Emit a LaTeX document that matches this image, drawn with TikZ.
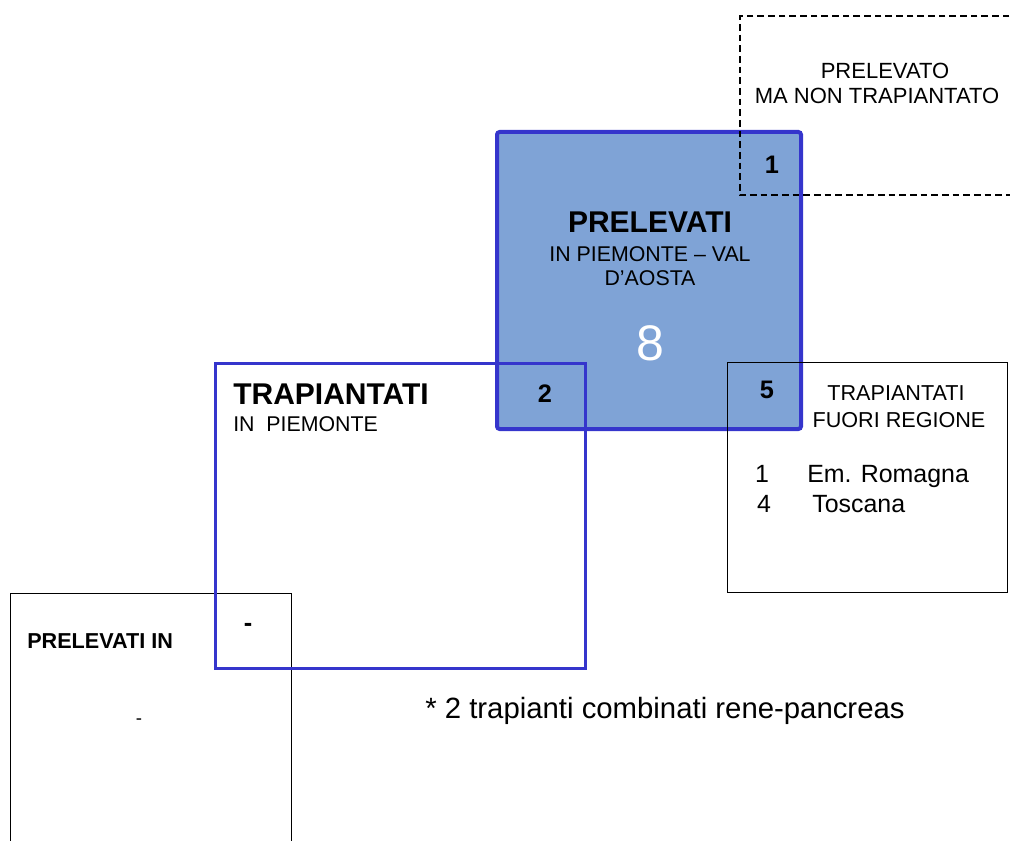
\documentclass[tikz,border=0pt]{standalone}
\usepackage{fontspec}
\setmainfont{Liberation Sans}

\definecolor{boxblue}{HTML}{3535CC}
\definecolor{fillblue}{HTML}{7FA3D6}

\tikzset{
    txt/.style = {inner sep = 0pt, font = \fontsize{#1}{#1}\selectfont},
    bold/.style = {inner sep = 0pt, font = \fontsize{#1}{#1}\selectfont\bfseries},
    thinbox/.style = {draw = black, line width = 0.6pt}
}

\begin{document}
\begin{tikzpicture}[x = 0.75pt, y = -0.75pt]
    \useasboundingbox (0,0) rectangle (1010,841);
    \clip (0,0) rectangle (1010,841);
    % boxes
    \fill[fillblue] (497,132) rectangle (801,429);
    \draw[boxblue, line width = 3pt, rounded corners = 2pt] (497,132) rectangle (801,429);
    \draw[thinbox] (10.5,593.5) rectangle (291,850);
    \draw[boxblue, line width = 2.25pt] (215.5,363.5) rectangle (585,668);
    \draw[thinbox] (727,362.5) rectangle (1007,592);
    \draw[black, line width = 1.5pt, dash pattern = on 5pt off 3pt] (1020,16.5) -- (739.5,16.5) -- (739.5,195) -- (1020,195);
    % labels
    \node[txt = 16.5pt] (nontrap1) at (885,71) {PRELEVATO};
    \node[txt = 16.5pt] (nontrap2) at (877,96) {MA NON TRAPIANTATO};
    \node[bold = 19pt] (nnontrap) at (772,165) {1};
    \node[bold = 22.5pt] (prel) at (650,222) {PRELEVATI};
    \node[txt = 16pt] (prel1) at (650,254) {IN PIEMONTE -- VAL};
    \node[txt = 16pt] (prel2) at (650,278) {D'AOSTA};
    \node[txt = 37.5pt, text = white] (nprel) at (650,343) {8};
    \node[bold = 19pt] (ntrap) at (545,394) {2};
    \node[bold = 19pt] (nfuori) at (767,390) {5};
    \node[bold = 22.5pt, anchor = west] (trap) at (233,394) {TRAPIANTATI};
    \node[txt = 16pt, anchor = west] (trap1) at (233,424) {IN\ \ PIEMONTE};
    \node[bold = 19pt] (nin) at (248,627) {-};
    \node[txt = 16.2pt] (fuori1) at (896,393) {TRAPIANTATI};
    \node[txt = 16.2pt] (fuori2) at (899,420) {FUORI REGIONE};
    \node[txt = 18.7pt, anchor = base] (n1) at (762,482) {1};
    \node[txt = 18.7pt, anchor = base west] (emr) at (807,482) {Em. Romagna};
    \node[txt = 18.7pt, anchor = base] (n4) at (764,512) {4};
    \node[txt = 18.7pt, anchor = base west] (tos) at (812,512) {Toscana};
    \node[bold = 16.2pt, anchor = west] (prelin) at (27,641) {PRELEVATI IN};
    \node[txt = 14pt] (nprelin) at (139,722) {-};
    \node[txt = 22pt, anchor = base west] (nota) at (425,718) {* 2 trapianti combinati rene-pancreas};
\end{tikzpicture}
\end{document}
